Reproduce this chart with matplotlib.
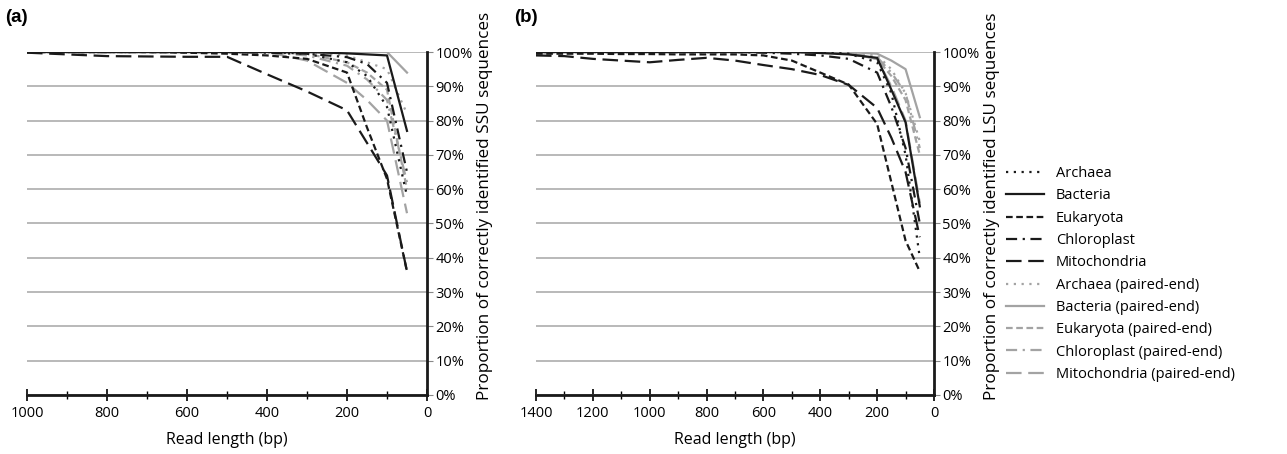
import numpy as np
import matplotlib.pyplot as plt
from matplotlib.ticker import MultipleLocator, PercentFormatter
from matplotlib.lines import Line2D

plt.rcParams["font.family"] = ["Open Sans", "DejaVu Sans"]

SERIES = ["Archaea", "Bacteria", "Eukaryota", "Chloroplast", "Mitochondria"]

# read lengths (bp)
len_a = [1000, 900, 800, 700, 600, 500, 400, 300, 200, 150, 100, 50]
len_b = [1400, 1300, 1200, 1100, 1000, 900, 800, 700, 600, 500, 400, 300, 200, 150, 100, 50]

# (a) SSU, % correctly identified
ssu_single = {
    "Archaea":      [100, 100, 100, 100, 100, 100, 100, 99.5, 97, 93, 84, 58],
    "Bacteria":     [100, 100, 100, 100, 100, 100, 100, 100, 99.6, 99.3, 99, 77],
    "Eukaryota":    [100, 100, 100, 100, 99.8, 99.5, 99, 98, 94, 78, 63, 36],
    "Chloroplast":  [100, 100, 100, 100, 100, 100, 99.8, 99.5, 98.5, 96.5, 91, 65],
    "Mitochondria": [99.8, 99.3, 98.8, 98.7, 98.6, 98.6, 93.5, 88.5, 83, 73.5, 64, 36],
}
ssu_paired = {
    "Archaea":      [100, 100, 100, 100, 100, 100, 100, 100, 99, 97, 95, 82],
    "Bacteria":     [100, 100, 100, 100, 100, 100, 100, 100, 100, 100, 100, 94],
    "Eukaryota":    [100, 100, 100, 100, 100, 100, 100, 99.5, 97, 94, 89, 60],
    "Chloroplast":  [100, 100, 100, 100, 100, 100, 100, 99, 96, 92, 86, 62],
    "Mitochondria": [100, 100, 100, 100, 100, 100, 100, 97.5, 91, 86, 80, 53],
}

# (b) LSU, % correctly identified
lsu_single = {
    "Archaea":      [100, 100, 100, 100, 100, 100, 100, 100, 100, 100, 100, 99.5, 97, 88, 70, 40],
    "Bacteria":     [100, 100, 100, 100, 100, 100, 100, 100, 100, 100, 99.7, 99.3, 98.3, 89, 79.5, 55],
    "Eukaryota":    [99.5, 99.5, 99.5, 99.4, 99.4, 99.3, 99.3, 99.3, 99, 97.5, 94, 90.5, 79, 62, 45, 36],
    "Chloroplast":  [100, 100, 100, 100, 100, 100, 100, 100, 99.8, 99.5, 99, 98, 94, 84, 72, 50],
    "Mitochondria": [99, 98.8, 98, 97.5, 97, 97.7, 98.3, 97.5, 96.2, 95, 93.3, 90.4, 83.7, 75, 65, 46],
}
lsu_paired = {
    "Archaea":      [100, 100, 100, 100, 100, 100, 100, 100, 100, 100, 100, 99.8, 99, 95, 88, 74],
    "Bacteria":     [100, 100, 100, 100, 100, 100, 100, 100, 100, 100, 100, 100, 99.5, 97.5, 95, 81],
    "Eukaryota":    [100, 100, 100, 100, 100, 100, 100, 100, 100, 100, 100, 99.5, 98, 93, 86, 70],
    "Chloroplast":  [100, 100, 100, 100, 100, 100, 100, 100, 100, 100, 100, 99.5, 98.5, 94, 88, 72],
    "Mitochondria": [100, 100, 100, 100, 100, 100, 100, 100, 100, 100, 100, 99.5, 98, 90, 80, 56],
}

STYLES = {
    "Archaea": (0, (1, 2.5)),
    "Bacteria": "-",
    "Eukaryota": (0, (3, 1.6)),
    "Chloroplast": (0, (5, 2.5, 1, 2.5)),
    "Mitochondria": (0, (7, 3)),
}
BLACK = "#1a1a1a"
GRAY = "#a3a3a3"
LW = 1.6

fig = plt.figure(figsize=(12.87, 4.54), dpi=100)
ax_a = fig.add_axes([27 / 1287, 1 - 395 / 454, 400 / 1287, 343 / 454])
ax_b = fig.add_axes([536 / 1287, 1 - 395 / 454, 398 / 1287, 343 / 454])


def draw(ax, x, single, paired, xmax, ylabel):
    for name in SERIES:
        ax.plot(x, np.array(single[name]) / 100, color=BLACK, lw=LW,
                linestyle=STYLES[name], zorder=3)
    for name in SERIES:
        ax.plot(x, np.array(paired[name]) / 100, color=GRAY, lw=LW,
                linestyle=STYLES[name], zorder=2)

    ax.set_xlim(xmax, 0)
    ax.set_ylim(0, 1)
    ax.xaxis.set_major_locator(MultipleLocator(200))
    ax.xaxis.set_minor_locator(MultipleLocator(100))
    ax.yaxis.set_major_locator(MultipleLocator(0.1))
    ax.yaxis.set_major_formatter(PercentFormatter(1.0, decimals=0))
    ax.yaxis.tick_right()
    ax.yaxis.set_label_position("right")
    ax.grid(axis="y", color="#b3b3b3", lw=1.3)
    ax.set_axisbelow(True)

    # keep only the right and bottom axis lines
    for s in ["top", "left"]:
        ax.spines[s].set_visible(False)
    for s in ["right", "bottom"]:
        ax.spines[s].set_linewidth(2)
        ax.spines[s].set_color(BLACK)

    ax.tick_params(axis="x", which="major", direction="inout", length=8, width=1.2,
                   labelsize=10.5, pad=4)
    ax.tick_params(axis="x", which="minor", direction="inout", length=6, width=1.0)
    ax.tick_params(axis="y", direction="out", length=4, width=0.8, labelsize=10.5,
                   color="#888888", pad=2)

    ax.set_xlabel("Read length (bp)", fontsize=11.5, labelpad=8)
    ax.set_ylabel(ylabel, fontsize=12.3, rotation=90, labelpad=3)
    ax.yaxis.label.set_y(0.55)


draw(ax_a, len_a, ssu_single, ssu_paired, 1000,
     "Proportion of correctly identified SSU sequences")
draw(ax_b, len_b, lsu_single, lsu_paired, 1400,
     "Proportion of correctly identified LSU sequences")

fig.text(5 / 1287, 1 - 18 / 454, "(a)", fontsize=13.5, fontweight="bold",
         family="Liberation Sans", va="center")
fig.text(514 / 1287, 1 - 18 / 454, "(b)", fontsize=13.5, fontweight="bold",
         family="Liberation Sans", va="center")

handles = []
labels = []
for name in SERIES:
    handles.append(Line2D([], [], color=BLACK, lw=LW, linestyle=STYLES[name]))
    labels.append(name)
for name in SERIES:
    handles.append(Line2D([], [], color=GRAY, lw=LW, linestyle=STYLES[name]))
    labels.append(name + " (paired-end)")

fig.legend(handles, labels, loc="center left", bbox_to_anchor=(993 / 1287, 1 - 274 / 454),
           frameon=False, fontsize=10.5, handlelength=2.6, handletextpad=0.8,
           labelspacing=0.5)

fig.savefig("out.png", dpi=100)
